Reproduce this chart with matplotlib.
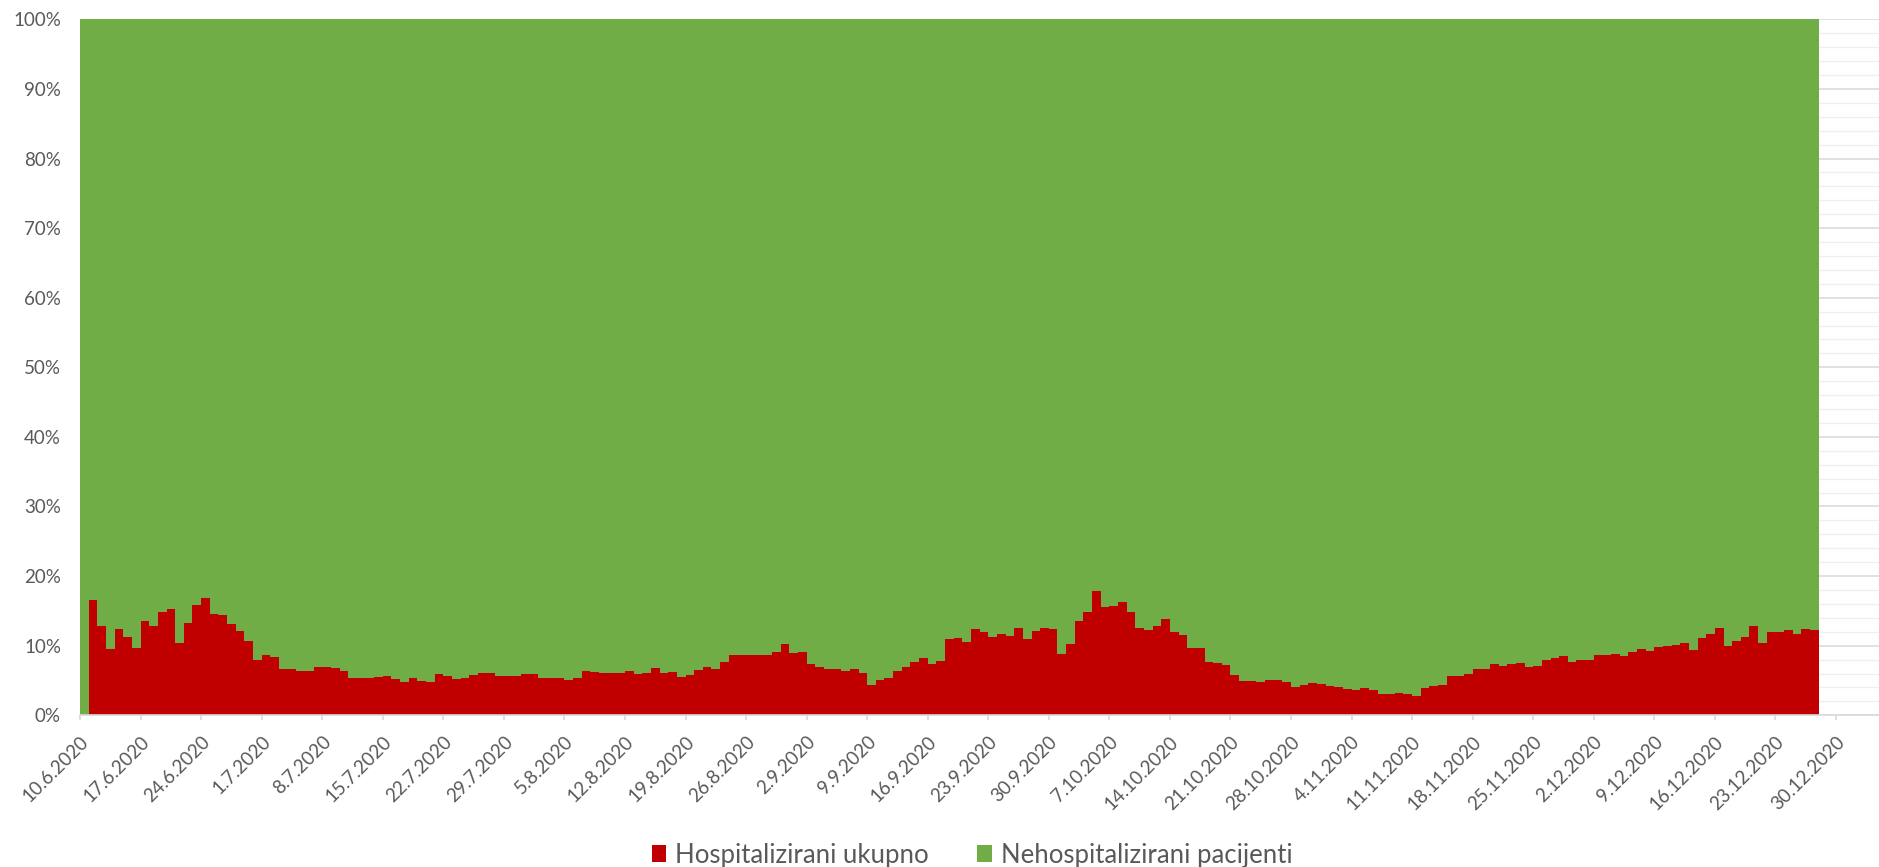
import matplotlib
matplotlib.use("Agg")
import matplotlib.pyplot as plt
import matplotlib.transforms as mtransforms
from matplotlib.patches import Patch
import numpy as np
import pandas as pd

# ---------------- data ----------------
start_date = "2020-06-10"
hosp_pct = [
    0.0, 16.6, 12.9, 9.5, 12.4, 11.3, 9.7, 13.6, 12.8, 14.8,
    15.3, 10.4, 13.2, 15.9, 16.9, 14.6, 14.4, 13.1, 12.1, 10.7,
    7.9, 8.7, 8.4, 6.7, 6.7, 6.4, 6.4, 6.9, 7.0, 6.8,
    6.3, 5.3, 5.4, 5.3, 5.5, 5.6, 5.2, 4.8, 5.3, 5.0,
    4.8, 6.0, 5.7, 5.2, 5.3, 5.8, 6.1, 6.1, 5.7, 5.7,
    5.6, 6.0, 5.9, 5.4, 5.3, 5.3, 5.1, 5.4, 6.4, 6.2,
    6.1, 6.1, 6.1, 6.4, 6.0, 6.1, 6.8, 6.1, 6.2, 5.5,
    5.8, 6.5, 6.9, 6.7, 7.7, 8.6, 8.7, 8.6, 8.7, 8.7,
    9.1, 10.3, 8.9, 9.1, 7.3, 6.9, 6.7, 6.6, 6.4, 6.6,
    6.1, 4.3, 5.1, 5.4, 6.4, 6.9, 7.7, 8.2, 7.4, 7.8,
    10.9, 11.1, 10.6, 12.4, 12.0, 11.3, 11.7, 11.4, 12.5, 11.0,
    12.1, 12.6, 12.4, 8.8, 10.3, 13.6, 14.9, 17.9, 15.6, 15.7,
    16.3, 14.9, 12.6, 12.3, 12.8, 13.9, 12.0, 11.5, 9.6, 9.6,
    7.7, 7.5, 7.2, 5.8, 5.0, 5.0, 4.8, 5.1, 5.1, 4.8,
    4.1, 4.3, 4.6, 4.5, 4.2, 4.1, 3.8, 3.6, 3.9, 3.6,
    3.1, 3.1, 3.2, 3.0, 2.8, 3.9, 4.2, 4.4, 5.7, 5.6,
    6.0, 6.6, 6.7, 7.4, 7.1, 7.3, 7.5, 6.9, 7.1, 8.0,
    8.2, 8.5, 7.7, 8.0, 7.9, 8.7, 8.7, 8.8, 8.5, 9.1,
    9.5, 9.2, 9.8, 9.9, 10.1, 10.4, 9.4, 11.1, 11.7, 12.5,
    10.0, 10.7, 11.2, 12.8, 10.4, 12.0, 11.9, 12.3, 11.7, 12.4,
    12.2,
]
nonhosp_pct = [100.0 - v for v in hosp_pct]
series_names = ["Hospitalizirani ukupno", "Nehospitalizirani pacijenti"]
series_colors = ["#C00000", "#70AD47"]
y_ticks = [0, 10, 20, 30, 40, 50, 60, 70, 80, 90, 100]
y_tick_labels = [f"{v}%" for v in y_ticks]
tick_dates = pd.date_range(start_date, "2020-12-30", freq="7D")
x_tick_labels = [f"{d.day}.{d.month}.{d.year}" for d in tick_dates]

# ---------------- figure ----------------
W, H, DPI = 1879, 867, 100
plt.rcParams["font.family"] = ["Lato", "DejaVu Sans"]
fig = plt.figure(figsize=(W / DPI, H / DPI), dpi=DPI)

px_per_day = 8.65
left_px, top_px, bottom_px = 80, 19.3, 715.3
xmax = 212
ax = fig.add_axes([left_px / W, 1 - bottom_px / H,
                   xmax * px_per_day / W, (bottom_px - top_px) / H])

x = np.arange(len(hosp_pct))
ax.bar(x, hosp_pct, width=1.0, align="edge", color=series_colors[0],
       linewidth=0, zorder=3)
ax.bar(x, nonhosp_pct, bottom=hosp_pct, width=1.0, align="edge",
       color=series_colors[1], linewidth=0, zorder=3)

ax.set_xlim(0, xmax)
ax.set_ylim(0, 100)

# grid
ax.set_yticks(y_ticks)
ax.set_yticklabels(y_tick_labels)
ax.set_yticks(np.arange(0, 101, 2), minor=True)
ax.grid(axis="y", which="major", color="#d9d9d9", linewidth=1.1, zorder=0)
ax.grid(axis="y", which="minor", color="#efefef", linewidth=0.9, zorder=0)
ax.set_axisbelow(True)

tick_pos = [(d - pd.Timestamp(start_date)).days for d in tick_dates]
ax.set_xticks(tick_pos)
ax.set_xticklabels(x_tick_labels, rotation=45, ha="right", va="center",
                   rotation_mode="anchor")

for s in ["top", "right", "left"]:
    ax.spines[s].set_visible(False)
ax.spines["bottom"].set_color("#d9d9d9")
ax.spines["bottom"].set_linewidth(1.2)
ax.spines["bottom"].set_zorder(4)

ax.tick_params(axis="y", which="both", length=0, pad=13.7,
               labelsize=13.5, labelcolor="#595959")
ax.tick_params(axis="x", which="major", length=3.6, width=1.2,
               color="#d9d9d9", pad=13.5, labelsize=13.5,
               labelcolor="#595959")

offset = mtransforms.ScaledTranslation(6 / DPI, 0, fig.dpi_scale_trans)
for lab in ax.get_xticklabels():
    lab.set_transform(lab.get_transform() + offset)

handles = [Patch(facecolor=c, edgecolor="none") for c in series_colors]
fig.legend(handles, series_names, loc="center", ncol=2,
           bbox_to_anchor=(972 / W, 1 - 855 / H), frameon=False,
           fontsize=18.5, labelcolor="#595959", handlelength=0.58,
           handleheight=0.66, handletextpad=0.33, columnspacing=1.9,
           borderpad=0.1)

fig.savefig("out.png", dpi=DPI)
